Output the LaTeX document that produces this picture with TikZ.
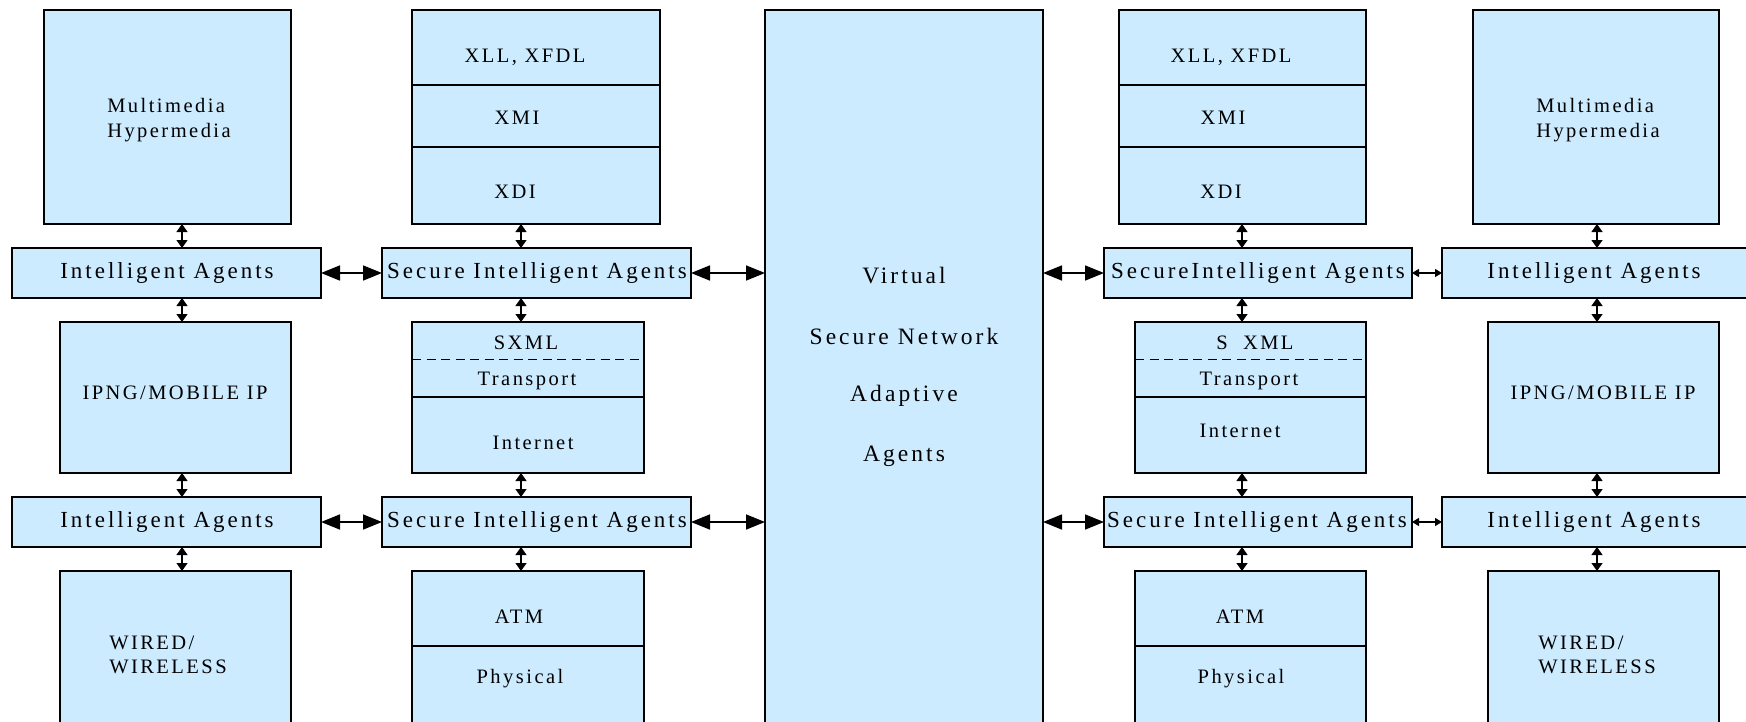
\documentclass[tikz,border=0pt]{standalone}
\usepackage{fontspec}
\usetikzlibrary{arrows.meta,fit}
\newfontfamily\tfs{Liberation Serif}[LetterSpace=12]
\newfontfamily\tfb{Liberation Serif}[LetterSpace=13]
\definecolor{boxblue}{RGB}{204,235,255}
\tikzset{
  box/.style={draw=black, fill=boxblue, line width=1.3pt, inner sep=0pt, outer sep=0pt, rectangle},
  txt/.style={inner sep=0pt, text=black, font=\tfs\fontsize{20.5}{25}\selectfont},
  bigtxt/.style={inner sep=0pt, text=black, font=\tfb\fontsize{23}{27}\selectfont},
  ctrtxt/.style={inner sep=0pt, text=black, font=\tfb\fontsize{23.5}{27}\selectfont},
  bigarr/.style={line width=1.6pt, {Triangle[length=19pt,width=15pt]}-{Triangle[length=19pt,width=15pt]}},
  smallarr/.style={line width=1.3pt, {Triangle[length=7pt,width=8pt]}-{Triangle[length=7pt,width=8pt]}},
  varr/.style={line width=1.3pt, {Triangle[length=8pt,width=11pt]}-{Triangle[length=8pt,width=11pt]}},
  divline/.style={line width=1.7pt, dash pattern=on 9pt off 5.5pt}
}
\begin{document}
\begin{tikzpicture}[x=1pt,y=-1pt]
\useasboundingbox (0,0) rectangle (1746,721);
\clip (0,0) rectangle (1746,721);

% ---------- column 1 ----------
\node[box, fit={(44,10) (291,224)}] (mm1) {};
\node[box, fit={(12,248) (321,298)}] (ia1) {};
\node[box, fit={(60,322) (291,473)}] (ipng1) {};
\node[box, fit={(12,497) (321,547)}] (ia2) {};
\node[box, fit={(60,571) (291,740)}] (wired1) {};
\node[txt, align=left, font=\tfs\fontsize{20.5}{25.5}\selectfont] (tmm1) at (169,120) {Multimedia\\Hypermedia};
\node[bigtxt] (tia1) at (167,273) {Intelligent Agents};
\node[txt] (tipng1) at (175,393) {IPNG/MOBILE IP};
\node[bigtxt] (tia2) at (167,522) {Intelligent Agents};
\node[txt, align=left, font=\tfs\fontsize{20.5}{24}\selectfont] (twired1) at (168,655) {WIRED/\\WIRELESS};

% ---------- column 2 ----------
\node[box, fit={(412,10) (660,85)}] (xll1) {};
\node[box, fit={(412,85) (660,147)}] (xmi1) {};
\node[box, fit={(412,147) (660,224)}] (xdi1) {};
\node[box, fit={(382,248) (691,298)}] (sia1) {};
\node[box, fit={(412,322) (644,397)}] (sx1) {};
\node[box, fit={(412,397) (644,473)}] (inet1) {};
\node[box, fit={(382,497) (691,547)}] (sia3) {};
\node[box, fit={(412,571) (644,646)}] (atm1) {};
\node[box, fit={(412,646) (644,740)}] (phy1) {};
\draw[divline] (sx1.west) -- (sx1.east);
\node[txt] (txll1) at (525,57) {XLL, XFDL};
\node[txt] (txmi1) at (517,118) {XMI};
\node[txt] (txdi1) at (515,192) {XDI};
\node[bigtxt] (tsia1) at (537,273) {Secure Intelligent Agents};
\node[txt] (tsx1) at (526,343) {SXML};
\node[txt] (ttr1) at (527,381) {Transport};
\node[txt] (tin1) at (533,443) {Internet};
\node[bigtxt] (tsia3) at (537,522) {Secure Intelligent Agents};
\node[txt] (tatm1) at (519,617) {ATM};
\node[txt] (tphy1) at (520,679) {Physical};

% ---------- centre ----------
\node[box, fit={(765,10) (1043,740)}] (vsn) {};
\node[ctrtxt] (tv1) at (904,276) {Virtual};
\node[ctrtxt] (tv2) at (904,336) {Secure Network};
\node[ctrtxt] (tv3) at (904,396) {Adaptive};
\node[ctrtxt] (tv4) at (904,456) {Agents};

% ---------- column 4 ----------
\node[box, fit={(1119,10) (1366,85)}] (xll2) {};
\node[box, fit={(1119,85) (1366,147)}] (xmi2) {};
\node[box, fit={(1119,147) (1366,224)}] (xdi2) {};
\node[box, fit={(1104,248) (1412,298)}] (sia2) {};
\node[box, fit={(1135,322) (1366,397)}] (sx2) {};
\node[box, fit={(1135,397) (1366,473)}] (inet2) {};
\node[box, fit={(1104,497) (1412,547)}] (sia4) {};
\node[box, fit={(1135,571) (1366,646)}] (atm2) {};
\node[box, fit={(1135,646) (1366,740)}] (phy2) {};
\draw[divline] (sx2.west) -- (sx2.east);
\node[txt] (txll2) at (1231,57) {XLL, XFDL};
\node[txt] (txmi2) at (1223,118) {XMI};
\node[txt] (txdi2) at (1221,192) {XDI};
\node[bigtxt] (tsia2) at (1258,273) {SecureIntelligent Agents};
\node[txt] (tsx2) at (1255,343) {S\ \ XML};
\node[txt] (ttr2) at (1249,381) {Transport};
\node[txt] (tin2) at (1240,431) {Internet};
\node[bigtxt] (tsia4) at (1257,522) {Secure Intelligent Agents};
\node[txt] (tatm2) at (1240,617) {ATM};
\node[txt] (tphy2) at (1241,679) {Physical};

% ---------- column 5 ----------
\node[box, fit={(1473,10) (1719,224)}] (mm2) {};
\node[box, fit={(1442,248) (1780,298)}] (ia3) {};
\node[box, fit={(1488,322) (1719,473)}] (ipng2) {};
\node[box, fit={(1442,497) (1780,547)}] (ia4) {};
\node[box, fit={(1488,571) (1719,740)}] (wired2) {};
\node[txt, align=left, font=\tfs\fontsize{20.5}{25.5}\selectfont] (tmm2) at (1598,120) {Multimedia\\Hypermedia};
\node[bigtxt] (tia3) at (1594,273) {Intelligent Agents};
\node[txt] (tipng2) at (1603,393) {IPNG/MOBILE IP};
\node[bigtxt] (tia4) at (1594,522) {Intelligent Agents};
\node[txt, align=left, font=\tfs\fontsize{20.5}{24}\selectfont] (twired2) at (1597,655) {WIRED/\\WIRELESS};

% ---------- arrow columns ----------
\coordinate (ax1) at (182,0);
\coordinate (ax2) at (521,0);
\coordinate (ax4) at (1242,0);
\coordinate (ax5) at (1597,0);

% vertical arrows
\draw[varr] (ax1 |- mm1.south) -- (ax1 |- ia1.north);
\draw[varr] (ax1 |- ia1.south) -- (ax1 |- ipng1.north);
\draw[varr] (ax1 |- ipng1.south) -- (ax1 |- ia2.north);
\draw[varr] (ax1 |- ia2.south) -- (ax1 |- wired1.north);

\draw[varr] (ax2 |- xdi1.south) -- (ax2 |- sia1.north);
\draw[varr] (ax2 |- sia1.south) -- (ax2 |- sx1.north);
\draw[varr] (ax2 |- inet1.south) -- (ax2 |- sia3.north);
\draw[varr] (ax2 |- sia3.south) -- (ax2 |- atm1.north);

\draw[varr] (ax4 |- xdi2.south) -- (ax4 |- sia2.north);
\draw[varr] (ax4 |- sia2.south) -- (ax4 |- sx2.north);
\draw[varr] (ax4 |- inet2.south) -- (ax4 |- sia4.north);
\draw[varr] (ax4 |- sia4.south) -- (ax4 |- atm2.north);

\draw[varr] (ax5 |- mm2.south) -- (ax5 |- ia3.north);
\draw[varr] (ax5 |- ia3.south) -- (ax5 |- ipng2.north);
\draw[varr] (ax5 |- ipng2.south) -- (ax5 |- ia4.north);
\draw[varr] (ax5 |- ia4.south) -- (ax5 |- wired2.north);

% horizontal arrows
\draw[bigarr] (ia1.east) -- (sia1.west);
\draw[bigarr] (sia1.east) -- (vsn.west |- sia1.east);
\draw[bigarr] (vsn.east |- sia2.west) -- (sia2.west);
\draw[smallarr] (sia2.east) -- (ia3.west |- sia2.east);

\draw[bigarr] (ia2.east) -- (sia3.west);
\draw[bigarr] (sia3.east) -- (vsn.west |- sia3.east);
\draw[bigarr] (vsn.east |- sia4.west) -- (sia4.west);
\draw[smallarr] (sia4.east) -- (ia4.west |- sia4.east);
\end{tikzpicture}
\end{document}
